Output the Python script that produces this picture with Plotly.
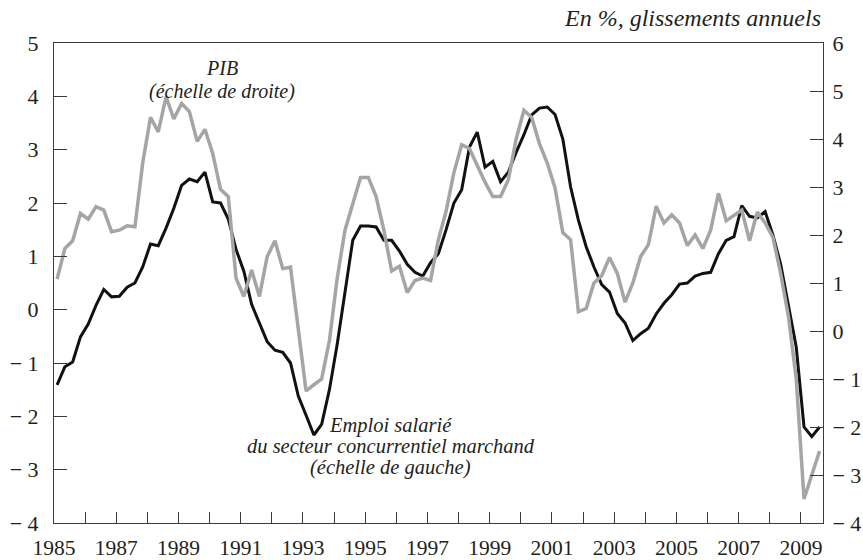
import plotly.graph_objects as go

# Quarterly series, 1985Q1 .. 2009Q3 (year-over-year growth, %)
emploi = [-1.41, -1.07, -0.98, -0.51, -0.27, 0.08, 0.38, 0.24, 0.25, 0.42,
          0.50, 0.80, 1.23, 1.20, 1.53, 1.90, 2.33, 2.45, 2.40, 2.58,
          2.02, 2.00, 1.70, 1.13, 0.72, 0.10, -0.25, -0.60, -0.76, -0.80,
          -1.00, -1.62, -1.98, -2.35, -2.15, -1.50, -0.65, 0.35, 1.30, 1.57,
          1.57, 1.55, 1.30, 1.30, 1.10, 0.85, 0.70, 0.63, 0.88, 1.05,
          1.50, 2.00, 2.25, 3.05, 3.33, 2.67, 2.78, 2.40, 2.58, 2.95,
          3.28, 3.65, 3.78, 3.80, 3.66, 3.20, 2.30, 1.68, 1.18, 0.80,
          0.47, 0.33, -0.07, -0.25, -0.58, -0.45, -0.35, -0.08, 0.12, 0.28,
          0.48, 0.50, 0.63, 0.68, 0.70, 1.05, 1.30, 1.37, 1.95, 1.75,
          1.72, 1.84, 1.40, 0.85, 0.10, -0.70, -2.20, -2.38, -2.20]

pib = [1.08, 1.72, 1.88, 2.45, 2.33, 2.59, 2.52, 2.07, 2.10, 2.19,
       2.17, 3.50, 4.45, 4.15, 4.88, 4.42, 4.74, 4.57, 3.95, 4.20,
       3.70, 2.95, 2.80, 1.10, 0.72, 1.27, 0.72, 1.55, 1.88, 1.30,
       1.33, 0.10, -1.25, -1.12, -1.00, -0.20, 1.10, 2.10, 2.65, 3.20,
       3.20, 2.80, 2.10, 1.25, 1.35, 0.80, 1.05, 1.10, 1.05, 1.90,
       2.50, 3.30, 3.88, 3.80, 3.45, 3.10, 2.80, 2.80, 3.15, 4.00,
       4.60, 4.45, 3.90, 3.50, 2.98, 2.05, 1.90, 0.40, 0.47, 1.00,
       1.15, 1.53, 1.20, 0.60, 1.00, 1.55, 1.80, 2.60, 2.25, 2.42,
       2.25, 1.78, 2.00, 1.72, 2.10, 2.87, 2.30, 2.40, 2.52, 1.88,
       2.48, 2.25, 1.95, 1.20, 0.30, -1.00, -3.50, -3.00, -2.50]

start_year = 1985
quarters = [start_year + (i + 0.4) / 4 for i in range(len(emploi))]

year_ticks = list(range(1985, 2010))
year_labels = [str(y) if y % 2 == 1 else "" for y in year_ticks]

left_ticks = list(range(-4, 6))
left_labels = [str(v) if v >= 0 else "\u2212 " + str(-v) for v in left_ticks]
right_ticks = list(range(-4, 7))
right_labels = [str(v) if v >= 0 else "\u2212 " + str(-v) for v in right_ticks]

FONT = "Liberation Serif"
TXT = "#231f20"
AX = "#3a3a3a"
TICKFONT = dict(family=FONT, size=22, color=TXT)

fig = go.Figure()
fig.add_trace(go.Scatter(x=quarters, y=pib, mode="lines", yaxis="y2",
                         line=dict(color="#a5a5a5", width=3.5), name="PIB",
                         showlegend=False))
fig.add_trace(go.Scatter(x=quarters, y=emploi, mode="lines", yaxis="y",
                         line=dict(color="#111111", width=3), name="Emploi",
                         showlegend=False))

fig.update_layout(
    width=863, height=560,
    margin=dict(l=54, r=40, t=43, b=37, autoexpand=False),
    paper_bgcolor="white", plot_bgcolor="white",
    font=dict(family=FONT, size=21, color=TXT),
    xaxis=dict(range=[1985, 2009.71], tickvals=year_ticks, ticktext=year_labels,
               ticks="inside", ticklen=11, tickcolor=AX, tickwidth=1,
               showline=True, linecolor=AX, linewidth=1, mirror=True,
               showgrid=False, zeroline=False, ticklabelstandoff=5,
               automargin=False, tickfont=dict(family=FONT, size=21.5, color=TXT)),
    yaxis=dict(range=[-4, 5], tickvals=left_ticks, ticktext=left_labels,
               ticks="inside", ticklen=13, tickcolor=AX, tickwidth=1,
               showline=True, linecolor=AX, linewidth=1,
               showgrid=False, zeroline=False, ticklabelstandoff=10,
               automargin=False, tickfont=TICKFONT),
    yaxis2=dict(range=[-4, 6], tickvals=right_ticks, ticktext=right_labels,
                overlaying="y", side="right",
                ticks="inside", ticklen=13, tickcolor=AX, tickwidth=1,
                showline=True, linecolor=AX, linewidth=1,
                showgrid=False, zeroline=False, ticklabelstandoff=4,
                automargin=False, tickfont=TICKFONT),
)

annotations = [
    dict(text="<i>PIB</i>", x=0.2185, y=0.948, size=20),
    dict(text="<i>(échelle de droite)</i>", x=0.2185, y=0.898, size=20),
    dict(text="<i>Emploi salarié</i>", x=0.438, y=0.204, size=20.5),
    dict(text="<i>du secteur concurrentiel marchand</i>", x=0.438, y=0.16, size=20.5),
    dict(text="<i>(échelle de gauche)</i>", x=0.438, y=0.115, size=20.5),
]
for a in annotations:
    fig.add_annotation(xref="paper", yref="paper", showarrow=False,
                       xanchor="center", yanchor="middle", borderpad=0,
                       font=dict(family=FONT, size=a["size"], color=TXT),
                       text=a["text"], x=a["x"], y=a["y"])
fig.add_annotation(xref="paper", yref="paper", x=1.0, y=1.052,
                   xanchor="right", yanchor="middle", showarrow=False,
                   text="<i>En %, glissements annuels</i>",
                   font=dict(family=FONT, size=24, color=TXT))

fig.write_html("out.html",
               config={"displayModeBar": False, "staticPlot": True},
               post_script="document.body.style.margin='0';"
                           "document.body.style.overflow='hidden';")
